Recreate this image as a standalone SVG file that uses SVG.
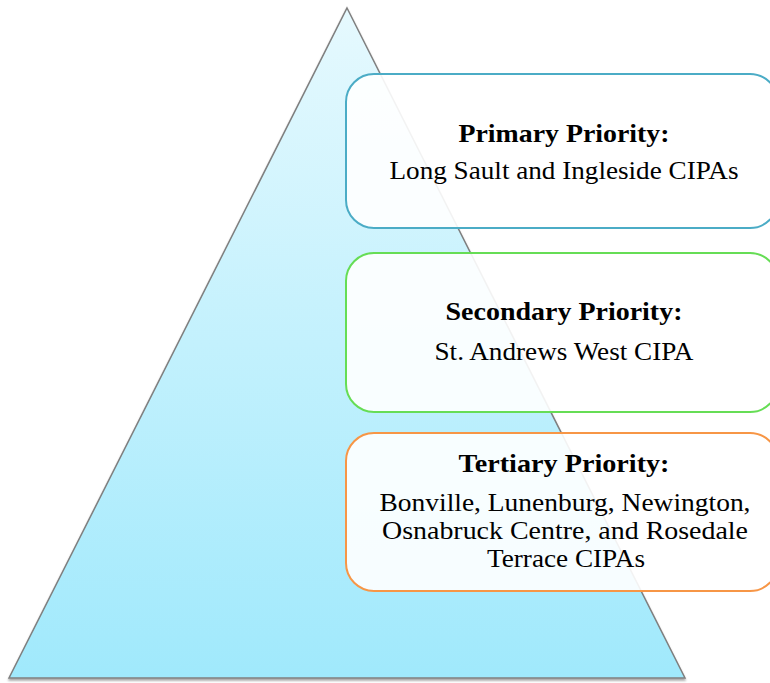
<svg xmlns="http://www.w3.org/2000/svg" width="770" height="683" viewBox="0 0 770 683">
<defs>
<linearGradient id="tri" x1="0" y1="0" x2="0" y2="1">
<stop offset="0" stop-color="#E6F9FE"/>
<stop offset="1" stop-color="#A0E9FC"/>
</linearGradient>
<filter id="sh" x="-5%" y="-5%" width="110%" height="110%">
<feGaussianBlur in="SourceAlpha" stdDeviation="1.2"/>
<feOffset dx="0" dy="1.5"/>
<feComponentTransfer><feFuncA type="linear" slope="0.35"/></feComponentTransfer>
<feMerge><feMergeNode/><feMergeNode in="SourceGraphic"/></feMerge>
</filter>
</defs>
<style>
.box{fill:#FFFFFF;fill-opacity:0.9;stroke-width:2}
.t{font-family:"Liberation Serif","Times New Roman",serif;font-size:24.5px;fill:#000;text-anchor:middle}
.b{font-weight:bold}
</style>
<g id="pyramid">
<polygon points="347,8 685,678 9,678" fill="url(#tri)" stroke="#7F7F7F" stroke-width="1.5" filter="url(#sh)"/>
</g>
<g id="connectors"></g>
<g id="primary">
<rect class="box" x="346" y="74" width="432" height="154" rx="28" stroke="#4BACC6"/>
<text class="t b" x="564" y="142" textLength="211" lengthAdjust="spacingAndGlyphs">Primary Priority:</text>
<text class="t" x="564" y="179" textLength="349" lengthAdjust="spacingAndGlyphs">Long Sault and Ingleside CIPAs</text>
</g>
<g id="secondary">
<rect class="box" x="346" y="253" width="432" height="159" rx="28" stroke="#66DD55"/>
<text class="t b" x="564" y="320" textLength="237" lengthAdjust="spacingAndGlyphs">Secondary Priority:</text>
<text class="t" x="564" y="360" textLength="259" lengthAdjust="spacingAndGlyphs">St. Andrews West CIPA</text>
</g>
<g id="tertiary">
<rect class="box" x="346" y="433" width="432" height="158" rx="28" stroke="#F79646"/>
<text class="t b" x="564" y="472" textLength="211" lengthAdjust="spacingAndGlyphs">Tertiary Priority:</text>
<text class="t" x="565" y="511" textLength="371" lengthAdjust="spacingAndGlyphs">Bonville, Lunenburg, Newington,</text>
<text class="t" x="565" y="539" textLength="366" lengthAdjust="spacingAndGlyphs">Osnabruck Centre, and Rosedale</text>
<text class="t" x="566" y="567" textLength="158" lengthAdjust="spacingAndGlyphs">Terrace CIPAs</text>
</g>
</svg>
